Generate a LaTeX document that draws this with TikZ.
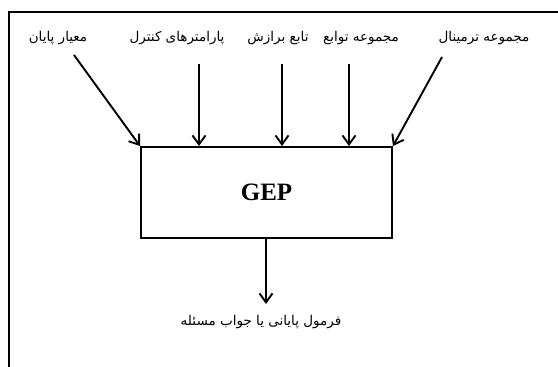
\documentclass[tikz,border=0pt]{standalone}
\usepackage{fontspec}
\setmainfont{Liberation Serif}
\newfontfamily\arabicfont[Script=Arabic]{DejaVu Sans}
\TeXXeTstate=1
\usetikzlibrary{arrows.meta}
\tikzset{
  flecha/.style={line width=1.9pt, -{Straight Barb[length=9pt,width=13pt,line width=1.9pt]}},
  etiqueta/.style={inner sep=0pt, font=\arabicfont\fontsize{13.5}{15}\selectfont}
}

\begin{document}
\begin{tikzpicture}[x=1pt,y=1pt]
\useasboundingbox (0,0) rectangle (558,-367);

%Marco
\draw[line width=2pt] (9,-367) -- (9,-12) -- (558,-12);

%Caja
\node[draw, line width=1.9pt, minimum width=251pt, minimum height=91pt, font=\fontsize{25}{27}\selectfont\bfseries] (gep) at (266.5,-192.5) {GEP};

%Etiquetas
\node[etiqueta] (fin) at (58,-38) {\beginR معیار پایان\endR};
\node[etiqueta] (param) at (177,-38) {\beginR پارامترهای کنترل\endR};
\node[etiqueta] (aptitud) at (278,-38) {\beginR تابع برازش\endR};
\node[etiqueta] (func) at (361,-38) {\beginR مجموعه توابع\endR};
\node[etiqueta] (term) at (484,-38) {\beginR مجموعه ترمینال\endR};
\node[etiqueta] (sal) at (261,-322) {\beginR فرمول پایانی یا جواب مسئله\endR};

\coordinate (a1) at (74,-55);
\coordinate (a2) at (199,-64);
\coordinate (a3) at (282,-64);
\coordinate (a4) at (349,-64);
\coordinate (a5) at (442,-57);
\coordinate (b1) at (266,-304);

%Flechas
\draw[flecha] (a1) -- (gep.north west);
\draw[flecha] (a2) -- (a2 |- gep.north);
\draw[flecha] (a3) -- (a3 |- gep.north);
\draw[flecha] (a4) -- (a4 |- gep.north);
\draw[flecha] (a5) -- (gep.north east);
\draw[flecha] (b1 |- gep.south) -- (b1);
\end{tikzpicture}
\end{document}
